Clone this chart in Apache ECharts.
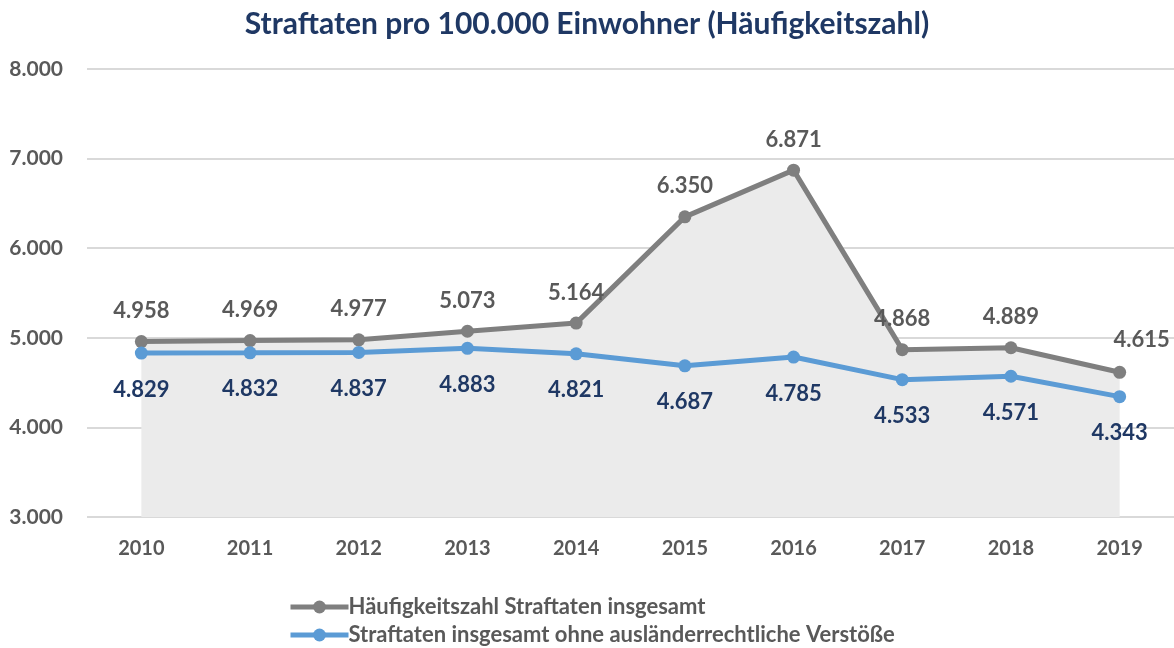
<!DOCTYPE html>
<html>
<head>
<meta charset="utf-8">
<script src="https://cdn.jsdelivr.net/npm/echarts@6/dist/echarts.min.js"></script>
<style>
    html, body { margin: 0; padding: 0; background: #fff; }
    #chart { width: 1174px; height: 648px; }
</style>
</head>
<body>
<div id="chart"></div>
<script>
var years = ['2010', '2011', '2012', '2013', '2014', '2015', '2016', '2017', '2018', '2019'];
var gesamt = [4958, 4969, 4977, 5073, 5164, 6350, 6871, 4868, 4889, 4615];
var ohneAuslaender = [4829, 4832, 4837, 4883, 4821, 4687, 4785, 4533, 4571, 4343];
var yTicks = [3000, 4000, 5000, 6000, 7000, 8000];

var font = 'Lato';
function fmt(v) {
    return String(v).replace(/\B(?=(\d{3})+(?!\d))/g, '.');
}

// last point label sits up and to the right, like in the original
var gesamtData = gesamt.map(function (v, i) {
    var d = { value: v };
    if (i === gesamt.length - 1) {
        d.label = { offset: [22, -2] };
    }
    return d;
});

var chart = echarts.init(document.getElementById('chart'));
chart.setOption({
    animation: false,
    title: {
        text: 'Straftaten pro 100.000 Einwohner (Häufigkeitszahl)',
        left: 'center',
        top: 4,
        padding: [5, 0, 5, 20],
        textStyle: { fontFamily: font, fontWeight: 'bold', fontSize: 30, color: '#1F3864' }
    },
    grid: { left: 87, right: 0, top: 69, bottom: 131 },
    legend: {
        orient: 'vertical',
        left: 283,
        top: 591,
        height: 58,
        itemGap: 6,
        itemWidth: 58,
        itemHeight: 16,
        lineStyle: { width: 5 },
        textStyle: { fontFamily: font, fontWeight: 'bold', fontSize: 22, color: '#595959', padding: [0, 0, 0, -5] },
        data: ['Häufigkeitszahl Straftaten insgesamt', 'Straftaten insgesamt ohne ausländerrechtliche Verstöße']
    },
    xAxis: {
        type: 'category',
        data: years,
        boundaryGap: true,
        axisLine: { show: false },
        axisTick: { show: false },
        axisLabel: { fontFamily: font, fontWeight: 'bold', fontSize: 20, color: '#595959', margin: 22 }
    },
    yAxis: {
        type: 'value',
        min: yTicks[0],
        max: yTicks[yTicks.length - 1],
        interval: 1000,
        axisLine: { show: false },
        axisTick: { show: false },
        splitLine: { lineStyle: { color: '#D9D9D9', width: 2 } },
        axisLabel: { fontFamily: font, fontWeight: 'bold', fontSize: 21, color: '#595959', margin: 24, formatter: fmt }
    },
    series: [
        {
            name: 'Häufigkeitszahl Straftaten insgesamt',
            type: 'line',
            data: gesamtData,
            symbol: 'circle',
            symbolSize: 13,
            itemStyle: { color: '#7F7F7F' },
            lineStyle: { color: '#7F7F7F', width: 5 },
            areaStyle: { color: '#EBEBEB', opacity: 1, origin: 'start' },
            label: {
                show: true,
                position: 'top',
                distance: 13,
                fontFamily: font,
                fontWeight: 'bold',
                fontSize: 22,
                color: '#595959',
                formatter: function (p) { return fmt(p.value); }
            },
            z: 2
        },
        {
            name: 'Straftaten insgesamt ohne ausländerrechtliche Verstöße',
            type: 'line',
            data: ohneAuslaender,
            symbol: 'circle',
            symbolSize: 13,
            itemStyle: { color: '#5B9BD5' },
            lineStyle: { color: '#5B9BD5', width: 5 },
            label: {
                show: true,
                position: 'bottom',
                distance: 19,
                fontFamily: font,
                fontWeight: 'bold',
                fontSize: 22,
                color: '#1F3864',
                formatter: function (p) { return fmt(p.value); }
            },
            z: 3
        }
    ]
});
</script>
</body>
</html>
